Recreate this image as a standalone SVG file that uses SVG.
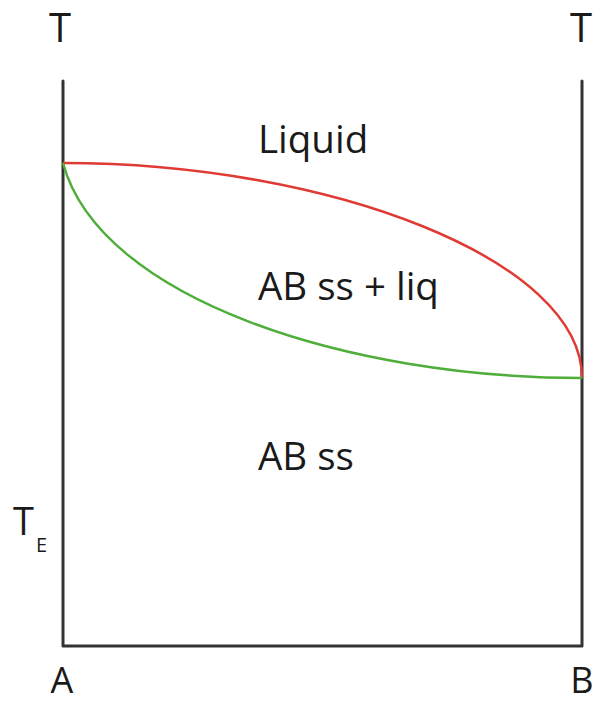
<svg xmlns="http://www.w3.org/2000/svg" width="595" height="703" viewBox="0 0 595 703">
<style>
.lbl{font-family:"Open Sans","Liberation Sans",sans-serif;fill:#1a1a1a}
.axis{fill:none;stroke:#333;stroke-width:3;stroke-linejoin:round;stroke-linecap:round}
</style>
<rect width="595" height="703" fill="#fff"/>
<g id="axes">
<path class="axis" d="M63,81 V646 H582 V81"/>
</g>
<g id="connectors">
<path id="liquidus" d="M63,163 C330,163 582,260 582,378" fill="none" stroke="#e03a34" stroke-width="2.5"/>
<path id="solidus" d="M63,163 C100,300 350,378 582,378" fill="none" stroke="#4fae3a" stroke-width="2.5"/>
</g>
<g id="labels">
<text class="lbl" x="60" y="42" font-size="40" text-anchor="middle">T</text>
<text class="lbl" x="581" y="42" font-size="40" text-anchor="middle">T</text>
<text class="lbl" x="258" y="153" font-size="38.5">Liquid</text>
<text class="lbl" x="258" y="300" font-size="38.5">AB ss + liq</text>
<text class="lbl" x="258" y="470" font-size="38.5">AB ss</text>
<text class="lbl" x="13" y="535" font-size="38">T</text>
<text class="lbl" x="36" y="552" font-size="20">E</text>
<text class="lbl" x="62" y="693" font-size="36" text-anchor="middle">A</text>
<text class="lbl" x="582" y="693" font-size="36" text-anchor="middle">B</text>
</g>
</svg>
